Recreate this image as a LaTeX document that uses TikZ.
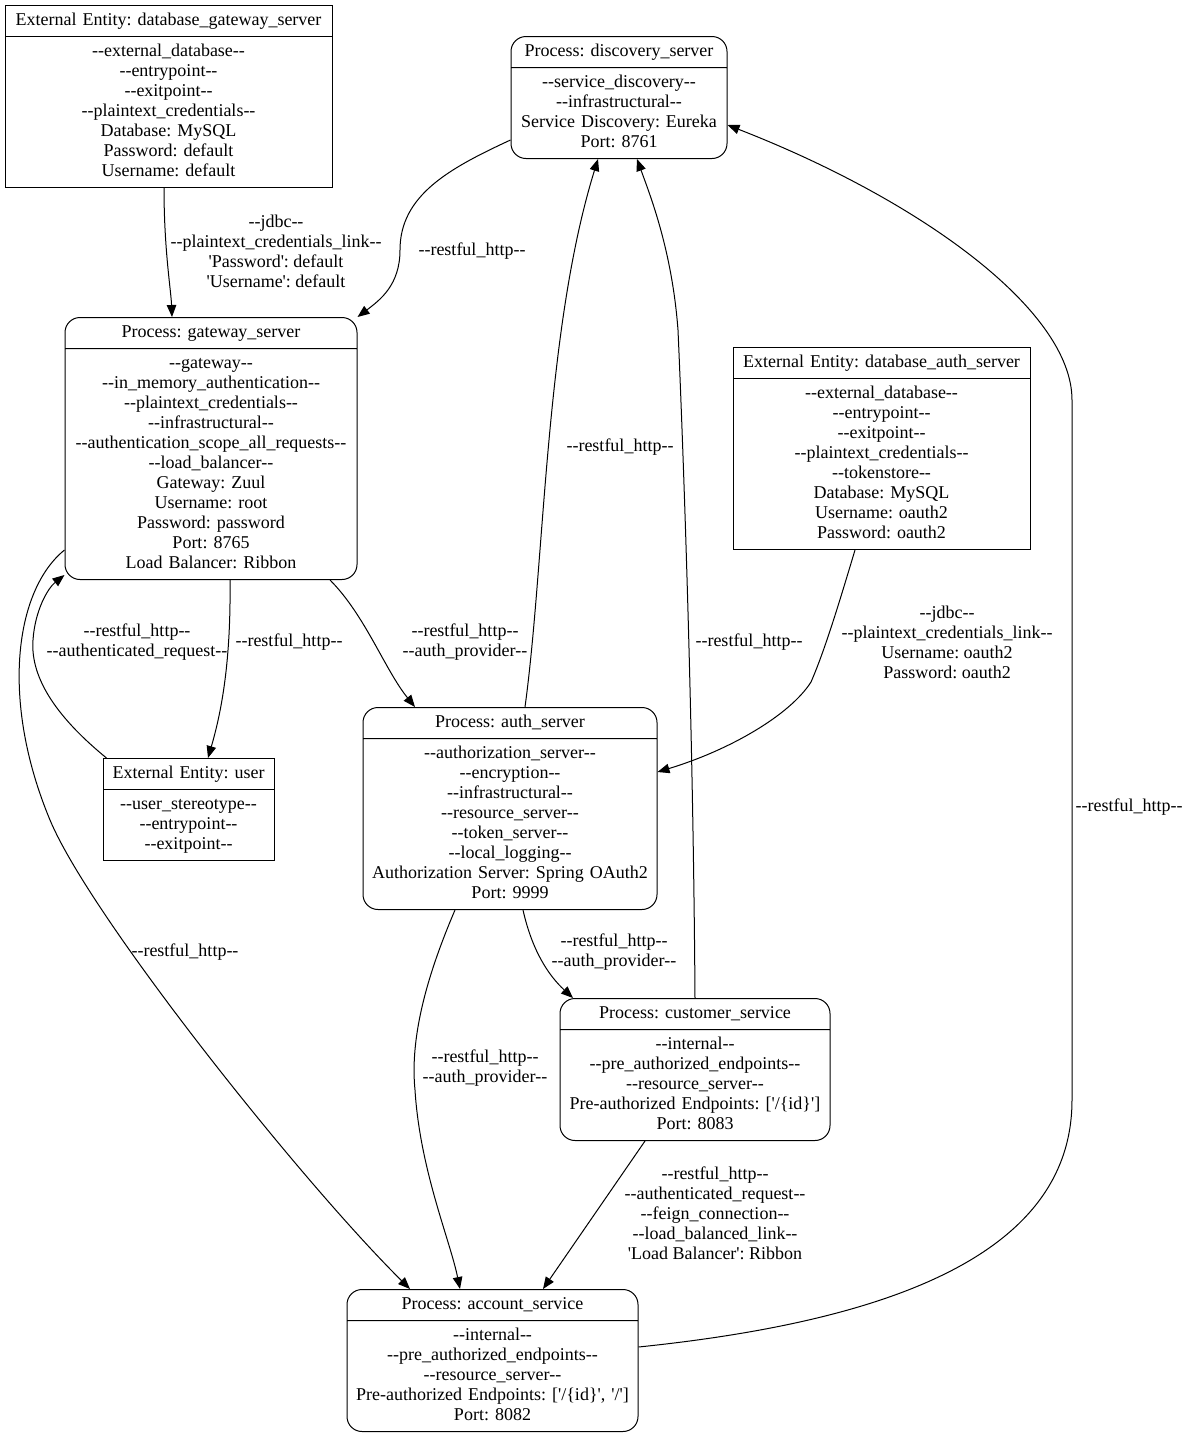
\documentclass[tikz,border=0pt]{standalone}
\usepackage{fontspec}
\setmainfont{Liberation Serif}[Ligatures=TeXOff]
\usetikzlibrary{arrows.meta}
\usetikzlibrary{shapes.multipart}

\begin{document}
\frenchspacing
\begin{tikzpicture}[x = 1pt, y = -1pt, font = \fontsize{18}{20}\selectfont]
	\tikzstyle{entityStyle} = [rectangle split, rectangle split parts = 2, draw, line width = 1pt, align = center, inner xsep = 4pt, inner ysep = 5pt, anchor = north]
	\tikzstyle{processStyle} = [entityStyle, rounded corners = 15pt]
	\tikzstyle{flowStyle} = [line width = 1pt, -{Triangle[length = 12pt, width = 9.5pt]}]
	\tikzstyle{flowLabel} = [align = center, inner sep = 0pt]
	\useasboundingbox (0,0) rectangle (1190,1436);
	\node[entityStyle, text width = 319pt] (v0) at (168.5,5) {\strut External Entity: database\_gateway\_server
		\nodepart{two}\strut --external\_database--\\--entrypoint--\\--exitpoint--\\--plaintext\_credentials--\\Database: MySQL\\Password: default\\Username: default\strut};
	\node[processStyle, text width = 208pt] (v1) at (619,36) {\strut Process: discovery\_server
		\nodepart{two}\strut --service\_discovery--\\--infrastructural--\\Service Discovery: Eureka\\Port: 8761\strut};
	\node[processStyle, text width = 284pt] (v2) at (211,317) {\strut Process: gateway\_server
		\nodepart{two}\strut --gateway--\\--in\_memory\_authentication--\\--plaintext\_credentials--\\--infrastructural--\\--authentication\_scope\_all\_requests--\\--load\_balancer--\\Gateway: Zuul\\Username: root\\Password: password\\Port: 8765\\Load Balancer: Ribbon\strut};
	\node[entityStyle, text width = 289pt] (v3) at (881.5,347) {\strut External Entity: database\_auth\_server
		\nodepart{two}\strut --external\_database--\\--entrypoint--\\--exitpoint--\\--plaintext\_credentials--\\--tokenstore--\\Database: MySQL\\Username: oauth2\\Password: oauth2\strut};
	\node[entityStyle, text width = 163pt] (v4) at (188.5,758) {\strut External Entity: user
		\nodepart{two}\strut --user\_stereotype--\\--entrypoint--\\--exitpoint--\strut};
	\node[processStyle, text width = 286pt] (v5) at (510,707) {\strut Process: auth\_server
		\nodepart{two}\strut --authorization\_server--\\--encryption--\\--infrastructural--\\--resource\_server--\\--token\_server--\\--local\_logging--\\Authorization Server: Spring OAuth2\\Port: 9999\strut};
	\node[processStyle, text width = 262pt] (v6) at (695,998) {\strut Process: customer\_service
		\nodepart{two}\strut --internal--\\--pre\_authorized\_endpoints--\\--resource\_server--\\Pre-authorized Endpoints: ['/\{id\}']\\Port: 8083\strut};
	\node[processStyle, text width = 283pt] (v7) at (492.5,1289) {\strut Process: account\_service
		\nodepart{two}\strut --internal--\\--pre\_authorized\_endpoints--\\--resource\_server--\\Pre-authorized Endpoints: ['/\{id\}', '/']\\Port: 8082\strut};
	\draw[flowStyle] ([xshift = -4.5pt]v0.south) .. controls (164,250) and (171,290) .. ([xshift = -39pt]v2.north)
		node[flowLabel] (l0) at (276,251) {--jdbc--\\--plaintext\_credentials\_link--\\'Password': default\\'Username': default};
	\draw[flowStyle] ([yshift = -104pt]v1.north west) .. controls (450,168) and (400,195) .. (400,250) .. controls (400,285) and (380,300) .. (v2.north east)
		node[flowLabel] (l1) at (472,251) {--restful\_http--};
	\draw[flowStyle] ([xshift = 119pt]v2.south) .. controls (365,615) and (385,670) .. ([xshift = -95pt]v5.north)
		node[flowLabel] (l2) at (465,642) {--restful\_http--\\--auth\_provider--};
	\draw[flowStyle] ([xshift = 19pt]v2.south) .. controls (231,660) and (222,710) .. ([xshift = 19.5pt]v4.north)
		node[flowLabel] (l3) at (289,642) {--restful\_http--};
	\draw[flowStyle] ([xshift = 4pt]v4.north west) .. controls (60,720) and (30,680) .. (33,640) .. controls (35,610) and (48,588) .. ([yshift = 5pt]v2.south west)
		node[flowLabel] (l4) at (137,642) {--restful\_http--\\--authenticated\_request--};
	\draw[flowStyle] ([yshift = 30pt]v2.south west) .. controls (15,590) and (0,700) .. (50,820) .. controls (90,916) and (300,1180) .. ([xshift = -82.5pt]v7.north)
		node[flowLabel] (l5) at (185,952) {--restful\_http--};
	\draw[flowStyle] ([xshift = 15pt]v5.north) .. controls (545,560) and (545,330) .. ([xshift = -21pt]v1.south)
		node[flowLabel] (l6) at (620,447) {--restful\_http--};
	\draw[flowStyle] ([xshift = -26.5pt]v3.south) .. controls (840,600) and (825,650) .. (811,682) .. controls (790,715) and (730,750) .. ([yshift = -65pt]v5.north east)
		node[flowLabel] (l7) at (947,642) {--jdbc--\\--plaintext\_credentials\_link--\\Username: oauth2\\Password: oauth2};
	\draw[flowStyle] ([xshift = 13pt]v5.south) .. controls (532,950) and (548,975) .. ([xshift = -122pt]v6.north)
		node[flowLabel] (l8) at (614,952) {--restful\_http--\\--auth\_provider--};
	\draw[flowStyle] ([xshift = -55pt]v5.south) .. controls (425,980) and (410,1040) .. (415,1090) .. controls (420,1170) and (450,1240) .. ([xshift = -32.5pt]v7.north)
		node[flowLabel] (l9) at (485,1068) {--restful\_http--\\--auth\_provider--};
	\draw[flowStyle] (v6.north) .. controls (693,700) and (682,420) .. (678,330) .. controls (672,250) and (650,195) .. ([xshift = 18pt]v1.south)
		node[flowLabel] (l10) at (749,642) {--restful\_http--};
	\draw[flowStyle] ([xshift = -50pt]v6.south) -- ([xshift = 50.5pt]v7.north)
		node[flowLabel] (l11) at (715,1213) {--restful\_http--\\--authenticated\_request--\\--feign\_connection--\\--load\_balanced\_link--\\'Load Balancer': Ribbon};
	\draw[flowStyle] ([yshift = -58pt]v7.north east) .. controls (900,1320) and (1072,1250) .. (1072,1100) -- (1072,400) .. controls (1072,310) and (920,200) .. ([yshift = -89pt]v1.north east)
		node[flowLabel] (l12) at (1129,807) {--restful\_http--};
\end{tikzpicture}
\end{document}
